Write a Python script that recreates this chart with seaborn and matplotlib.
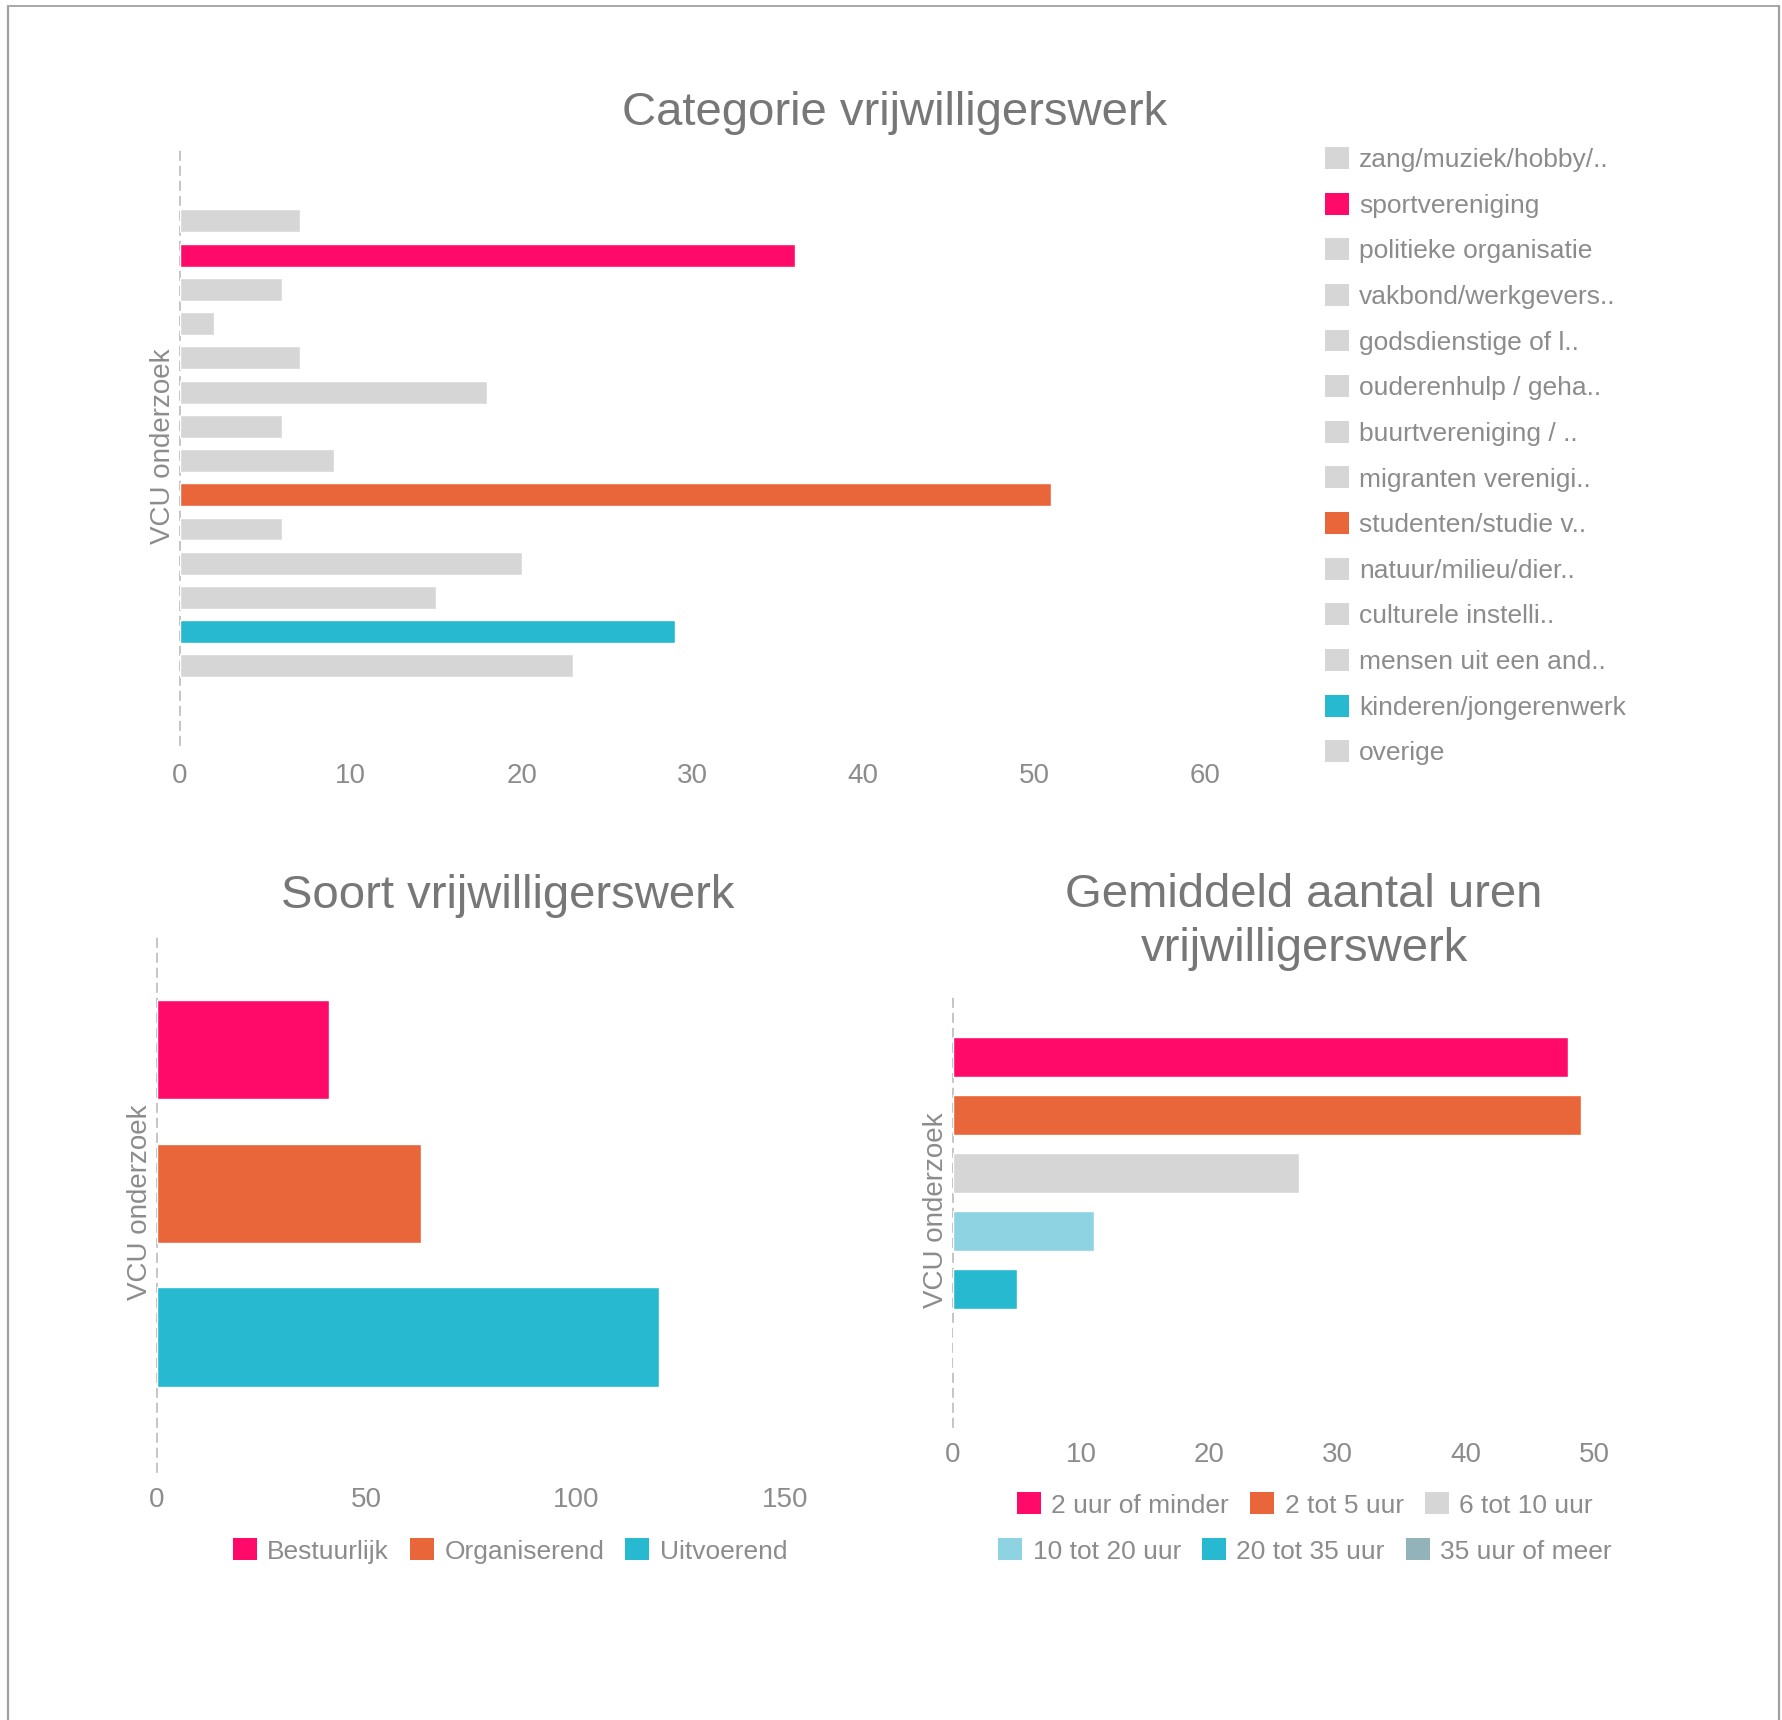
import pandas as pd
import matplotlib.pyplot as plt
from matplotlib.patches import Patch
from matplotlib.lines import Line2D
import seaborn as sns

# data
categorie_labels = ['zang/muziek/hobby/..', 'sportvereniging', 'politieke organisatie',
                    'vakbond/werkgevers..', 'godsdienstige of l..', 'ouderenhulp / geha..',
                    'buurtvereniging / ..', 'migranten verenigi..', 'studenten/studie v..',
                    'natuur/milieu/dier..', 'culturele instelli..', 'mensen uit een and..',
                    'kinderen/jongerenwerk', 'overige']
categorie_values = [7, 36, 6, 2, 7, 18, 6, 9, 51, 6, 20, 15, 29, 23]

soort_labels = ['Bestuurlijk', 'Organiserend', 'Uitvoerend']
soort_values = [41, 63, 120]

uren_labels = ['2 uur of minder', '2 tot 5 uur', '6 tot 10 uur',
               '10 tot 20 uur', '20 tot 35 uur', '35 uur of meer']
uren_values = [48, 49, 27, 11, 5, 0]

PINK = '#FF0A69'
ORANGE = '#E8663A'
TEAL = '#26B9CF'
GREY = '#D6D6D6'
LIGHTBLUE = '#8DD3E2'
GREYTEAL = '#93B3BA'

categorie_colors = [GREY, PINK, GREY, GREY, GREY, GREY, GREY, GREY, ORANGE,
                    GREY, GREY, GREY, TEAL, GREY]
soort_colors = [PINK, ORANGE, TEAL]
uren_colors = [PINK, ORANGE, GREY, LIGHTBLUE, TEAL, GREYTEAL]

TEXT = '#8C8C8C'
TITLE = '#777777'

sns.set_style('white')
plt.rcParams['font.family'] = ['Liberation Sans', 'DejaVu Sans']

W, H = 1783, 1720
fig = plt.figure(figsize=(W / 100, H / 100), dpi=100)


def px_axes(left, right, top, bottom):
    return fig.add_axes([left / W, 1 - bottom / H, (right - left) / W, (bottom - top) / H])


def style_axes(ax, xmax, step, ylim, label_x, pad):
    ax.set_xlim(0, xmax)
    ax.set_xticks(range(0, xmax + 1, step))
    ax.set_ylim(*ylim)
    ax.set_yticks([])
    ax.set_xlabel('')
    ax.set_ylabel('VCU onderzoek', fontsize=20, color=TEXT)
    ax.yaxis.set_label_coords(label_x, 0.5)
    for s in ['top', 'right', 'bottom']:
        ax.spines[s].set_visible(False)
    ax.spines['left'].set_color('#BBBBBB')
    ax.spines['left'].set_linewidth(1.2)
    ax.spines['left'].set_linestyle((0, (5, 4)))
    ax.spines['left'].set_zorder(0)
    ax.tick_params(axis='x', length=0, pad=pad, labelsize=20, labelcolor=TEXT)


# top chart
df1 = pd.DataFrame({'cat': categorie_labels, 'val': categorie_values})
ax1 = px_axes(180, 1205, 148, 745)
sns.barplot(data=df1, x='val', y='cat', hue='cat', palette=categorie_colors, legend=False,
            orient='h', width=0.67, saturation=1, ax=ax1)
style_axes(ax1, 60, 10, (15.31, -2.13), -4 / 1025, 13)
fig.text(895 / W, 1 - 113 / H, 'Categorie vrijwilligerswerk', fontsize=34, color=TITLE,
         ha='center', va='center')
handles1 = [Patch(facecolor=c, edgecolor='none') for c in categorie_colors]
fig.legend(handles1, categorie_labels, loc='upper left', bbox_to_anchor=(1325 / W, 1 - 147 / H),
           frameon=False, fontsize=19, labelcolor=TEXT, handlelength=0.9, handleheight=0.9,
           handletextpad=0.4, labelspacing=0.78, borderpad=0, borderaxespad=0)

# bottom left
df2 = pd.DataFrame({'soort': soort_labels, 'val': soort_values})
ax2 = px_axes(157, 785, 932, 1472)
sns.barplot(data=df2, x='val', y='soort', hue='soort', palette=soort_colors, legend=False,
            orient='h', width=0.69, saturation=1, ax=ax2)
style_axes(ax2, 150, 50, (2.94, -0.82), -4 / 628, 10.5)
fig.text(508 / W, 1 - 896 / H, 'Soort vrijwilligerswerk', fontsize=34, color=TITLE,
         ha='center', va='center')
handles2 = [Patch(facecolor=c, edgecolor='none') for c in soort_colors]
fig.legend(handles2, soort_labels, loc='center', bbox_to_anchor=(510 / W, 1 - 1551 / H), ncol=3,
           frameon=False, fontsize=19, labelcolor=TEXT, handlelength=0.9, handleheight=0.9,
           handletextpad=0.4, columnspacing=0.8, borderpad=0, borderaxespad=0)

# bottom right
df3 = pd.DataFrame({'uren': uren_labels, 'val': uren_values})
ax3 = px_axes(953, 1594, 993, 1427)
sns.barplot(data=df3, x='val', y='uren', hue='uren', palette=uren_colors, legend=False,
            orient='h', width=0.69, saturation=1, ax=ax3)
style_axes(ax3, 50, 10, (6.38, -1.1), -4 / 641, 10.5)
fig.text(1304 / W, 1 - 922 / H, 'Gemiddeld aantal uren\nvrijwilligerswerk', fontsize=34,
         color=TITLE, ha='center', va='center', linespacing=1.3)
handles3 = [Patch(facecolor=c, edgecolor='none') for c in uren_colors]
for row, yc in zip([slice(0, 3), slice(3, 6)], [1505, 1551]):
    fig.legend(handles3[row], uren_labels[row], loc='center', bbox_to_anchor=(1305 / W, 1 - yc / H),
               ncol=3, frameon=False, fontsize=19, labelcolor=TEXT, handlelength=0.9,
               handleheight=0.9, handletextpad=0.4, columnspacing=0.8, borderpad=0,
               borderaxespad=0)

# screenshot frame
fig.add_artist(Line2D([8 / W, 8 / W], [0, 1 - 6 / H], color='#A0A0A0', lw=1.6))
fig.add_artist(Line2D([8 / W, 1779 / W], [1 - 6 / H, 1 - 6 / H], color='#A8A8A8', lw=1.4))
fig.add_artist(Line2D([1779 / W, 1779 / W], [0, 1 - 6 / H], color='#A0A0A0', lw=1.6))

fig.savefig('out.png', dpi=100, facecolor='white')
